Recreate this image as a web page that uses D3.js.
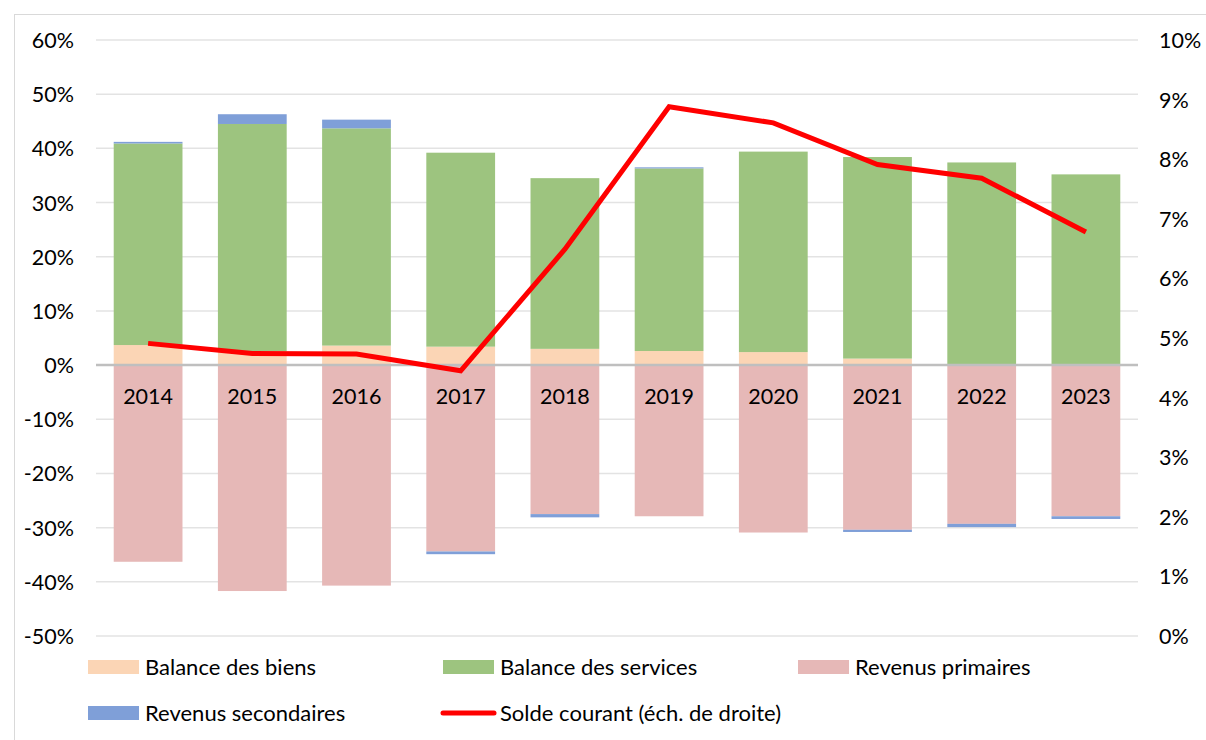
<!DOCTYPE html>
<html><head><meta charset="utf-8">
<script src="https://cdn.jsdelivr.net/npm/d3@7"></script>
<style>body{margin:0;background:#fff}svg{display:block}text{font-family:Lato,"Open Sans",sans-serif;fill:#000}</style>
</head><body>
<svg id="c" width="1206" height="740"></svg>
<script>
const years = ["2014","2015","2016","2017","2018","2019","2020","2021","2022","2023"];
const biens = [3.7, 2.6, 3.6, 3.4, 3.0, 2.6, 2.4, 1.2, 0.1, 0.0];
const services = [37.2, 41.9, 40.1, 35.8, 31.5, 33.7, 37.0, 37.2, 37.3, 35.2];
const primaires = [-36.3, -41.7, -40.7, -34.4, -27.5, -27.9, -30.9, -30.4, -29.3, -27.9];
const secondaires = [0.3, 1.8, 1.6, -0.5, -0.6, 0.2, 0.0, -0.4, -0.6, -0.5];
const solde = [4.91, 4.74, 4.73, 4.45, 6.49, 8.88, 8.61, 7.91, 7.68, 6.78];
const leftTicks = [60, 50, 40, 30, 20, 10, 0, -10, -20, -30, -40, -50];
const rightTicks = [10, 9, 8, 7, 6, 5, 4, 3, 2, 1, 0];
const seriesNames = ["Balance des biens", "Balance des services", "Revenus primaires", "Revenus secondaires"];
const seriesColors = ["#FBD5B5", "#9DC47F", "#E6B8B7", "#7F9FD8"];
const lineName = "Solde courant (éch. de droite)";

const svg = d3.select("#c");
const L = 96, R = 1138, T = 40, B = 636;
const x = d3.scaleBand().domain(years).range([L, R]).paddingInner(0.34).paddingOuter(0.17);
const y = d3.scaleLinear().domain([-50, 60]).range([B, T]);
const y2 = d3.scaleLinear().domain([0, 10]).range([B, T]);

// outer border
svg.append("rect").attr("x", 14.5).attr("y", 14.5).attr("width", 1220).attr("height", 760)
  .attr("fill", "none").attr("stroke", "#d9d9d9").attr("stroke-width", 1);

// gridlines
svg.append("g").selectAll("line").data(leftTicks.filter(d => d !== 0)).join("line")
  .attr("x1", L).attr("x2", R).attr("y1", d => y(d)).attr("y2", d => y(d))
  .attr("stroke", "#e3e3e3").attr("stroke-width", 1.5);

// stacked bars
const data = years.map((yr, i) => ({yr, vals: [biens[i], services[i], primaires[i], secondaires[i]]}));
const rects = [];
data.forEach(d => {
  let pos = 0, neg = 0;
  d.vals.forEach((v, k) => {
    if (v >= 0) { rects.push({yr: d.yr, k, y0: pos, y1: pos + v}); pos += v; }
    else { rects.push({yr: d.yr, k, y0: neg + v, y1: neg}); neg += v; }
  });
});
svg.append("g").selectAll("rect").data(rects).join("rect")
  .attr("x", d => x(d.yr)).attr("width", x.bandwidth())
  .attr("y", d => y(d.y1)).attr("height", d => Math.max(0, y(d.y0) - y(d.y1)))
  .attr("fill", d => seriesColors[d.k]);

// zero line
svg.append("line").attr("x1", L).attr("x2", R).attr("y1", y(0)).attr("y2", y(0))
  .attr("stroke", "#bfbfbf").attr("stroke-width", 2.5);

// category labels
svg.append("g").selectAll("text").data(years).join("text")
  .attr("x", d => x(d) + x.bandwidth() / 2).attr("y", y(0) + 39)
  .attr("text-anchor", "middle").attr("font-size", 21.5).text(d => d);

// line
const line = d3.line().x((d, i) => x(years[i]) + x.bandwidth() / 2).y(d => y2(d));
svg.append("path").datum(solde).attr("d", line).attr("fill", "none")
  .attr("stroke", "#FF0000").attr("stroke-width", 5).attr("stroke-linejoin", "miter");

// axes labels
svg.append("g").selectAll("text").data(leftTicks).join("text")
  .attr("x", 74).attr("y", d => y(d) + 8).attr("text-anchor", "end").attr("font-size", 21.5)
  .text(d => d + "%");
svg.append("g").selectAll("text").data(rightTicks).join("text")
  .attr("x", 1159).attr("y", d => y2(d) + 8).attr("text-anchor", "start").attr("font-size", 21.5)
  .text(d => d + "%");

// legend
const legendItems = [
  {name: seriesNames[0], color: seriesColors[0], type: "rect", lx: 88, ly: 667},
  {name: seriesNames[1], color: seriesColors[1], type: "rect", lx: 443, ly: 667},
  {name: seriesNames[2], color: seriesColors[2], type: "rect", lx: 798, ly: 667},
  {name: seriesNames[3], color: seriesColors[3], type: "rect", lx: 88, ly: 713},
  {name: lineName, color: "#FF0000", type: "line", lx: 443, ly: 713}
];
const lg = svg.append("g").selectAll("g").data(legendItems).join("g");
lg.filter(d => d.type === "rect").append("rect")
  .attr("x", d => d.lx).attr("y", d => d.ly - 7).attr("width", 51).attr("height", 14)
  .attr("fill", d => d.color);
lg.filter(d => d.type === "line").append("line")
  .attr("x1", d => d.lx).attr("x2", d => d.lx + 51).attr("y1", d => d.ly).attr("y2", d => d.ly)
  .attr("stroke", d => d.color).attr("stroke-width", 5).attr("stroke-linecap", "round");
lg.append("text").attr("x", d => d.lx + 57).attr("y", d => d.ly + 8).attr("font-size", 22)
  .text(d => d.name);
</script>
</body></html>
